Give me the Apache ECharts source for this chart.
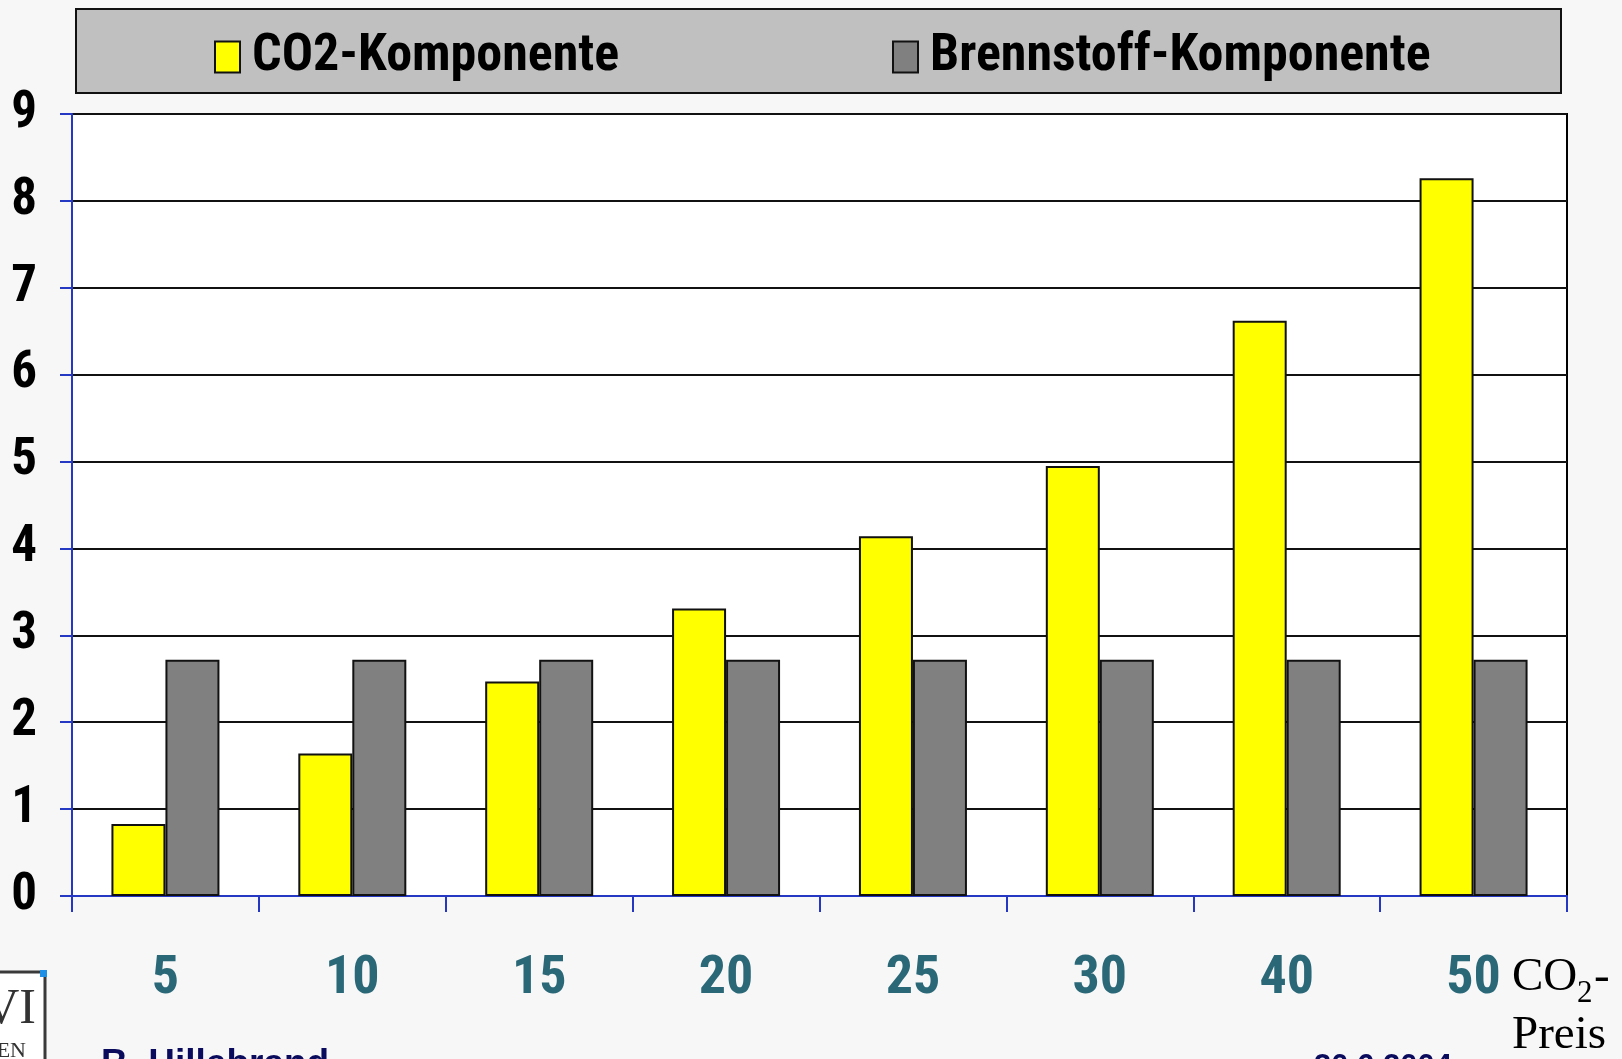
<!DOCTYPE html>
<html>
<head>
<meta charset="utf-8">
<script src="https://cdn.jsdelivr.net/npm/echarts@6/dist/echarts.min.js"></script>
<style>
html,body{margin:0;padding:0;background:#f7f7f7;}
#c{width:1622px;height:1059px;}
</style>
</head>
<body>
<div id="c"></div>
<script>
var categories = ['5', '10', '15', '20', '25', '30', '40', '50'];
var co2Values = [0.83, 1.64, 2.47, 3.31, 4.14, 4.95, 6.62, 8.26];
var fuelValues = [2.72, 2.72, 2.72, 2.72, 2.72, 2.72, 2.72, 2.72];
var seriesNames = ['CO2-Komponente', 'Brennstoff-Komponente'];
var yTicks = { min: 0, max: 9, interval: 1 };

var COND = '"Roboto Condensed", "Liberation Sans", Arial, sans-serif';
var SANS = '"Liberation Sans", Arial, sans-serif';
var SERIF = '"Liberation Serif", "Times New Roman", serif';
var AXIS_BLUE = '#2438c4';

var chart = echarts.init(document.getElementById('c'), null, { renderer: 'canvas' });
var legendText = { fontFamily: COND, fontWeight: 'bold', fontSize: 52, color: '#000', padding: [0, 0, 0, 7] };

chart.setOption({
  backgroundColor: '#f7f7f7',
  animation: false,
  grid: {
    left: 72, right: 55, top: 114, bottom: 163,
    show: true, backgroundColor: '#ffffff', borderColor: '#000', borderWidth: 2
  },
  legend: [
    { data: [seriesNames[0]], left: 209, top: 26, icon: 'rect', itemWidth: 25, itemHeight: 31, itemGap: 10,
      textStyle: legendText, selectedMode: false },
    { data: [seriesNames[1]], left: 887, top: 26, icon: 'rect', itemWidth: 25, itemHeight: 31, itemGap: 10,
      textStyle: legendText, selectedMode: false }
  ],
  graphic: [
    { type: 'rect', z: -1, shape: { x: 76, y: 9, width: 1485, height: 84 },
      style: { fill: '#c0c0c0', stroke: '#111', lineWidth: 2 } },
    { type: 'text', left: 1512, top: 954, style: { text: 'CO', font: '47px ' + SERIF, fill: '#000' } },
    { type: 'text', left: 1577, top: 978, style: { text: '2', font: '31px ' + SERIF, fill: '#000' } },
    { type: 'text', left: 1594, top: 954, style: { text: '-', font: '47px ' + SERIF, fill: '#000' } },
    { type: 'text', left: 1512, top: 1012, style: { text: 'Preis', font: '47px ' + SERIF, fill: '#000' } },
    { type: 'text', left: 101, top: 1046, style: { text: 'B. Hillebrand', font: 'bold 37px ' + SANS, fill: '#0b0b5e' } },
    { type: 'text', left: 1314, top: 1052, style: { text: '30.6.2004', font: 'bold 31px ' + SANS, fill: '#0b0b5e' } },
    { type: 'rect', shape: { x: -4, y: 972, width: 49, height: 100 },
      style: { fill: '#ffffff', stroke: '#3a3a3a', lineWidth: 3 } },
    { type: 'rect', shape: { x: 40, y: 970, width: 7, height: 7 }, style: { fill: '#1e90e6' } },
    { type: 'text', right: 1622 - 36, top: 985, style: { text: 'VI', font: '50px ' + SERIF, fill: '#333' } },
    { type: 'text', right: 1622 - 26, top: 1040, style: { text: 'EN', font: '22px ' + SERIF, fill: '#333' } }
  ],
  xAxis: {
    type: 'category',
    data: categories,
    axisLine: { lineStyle: { color: AXIS_BLUE, width: 2 } },
    axisTick: { show: true, length: 16, lineStyle: { color: AXIS_BLUE, width: 2 } },
    axisLabel: { fontFamily: COND, fontWeight: 'bold', fontSize: 54, color: '#2a6878', margin: 56 },
    splitLine: { show: false }
  },
  yAxis: {
    type: 'value',
    min: yTicks.min, max: yTicks.max, interval: yTicks.interval,
    axisLine: { show: true, lineStyle: { color: AXIS_BLUE, width: 2 } },
    axisTick: { show: true, length: 12, lineStyle: { color: AXIS_BLUE, width: 2 } },
    axisLabel: { fontFamily: COND, fontWeight: 'bold', fontSize: 51, color: '#000', margin: 35 },
    splitLine: { show: true, lineStyle: { color: '#111', width: 2 } }
  },
  series: [
    { name: seriesNames[0], type: 'bar', data: co2Values, barWidth: 54, barGap: '0%',
      itemStyle: { color: '#ffff00', borderColor: '#111', borderWidth: 2 } },
    { name: seriesNames[1], type: 'bar', data: fuelValues, barWidth: 54, barGap: '0%',
      itemStyle: { color: '#808080', borderColor: '#111', borderWidth: 2 } }
  ]
});
</script>
</body>
</html>
